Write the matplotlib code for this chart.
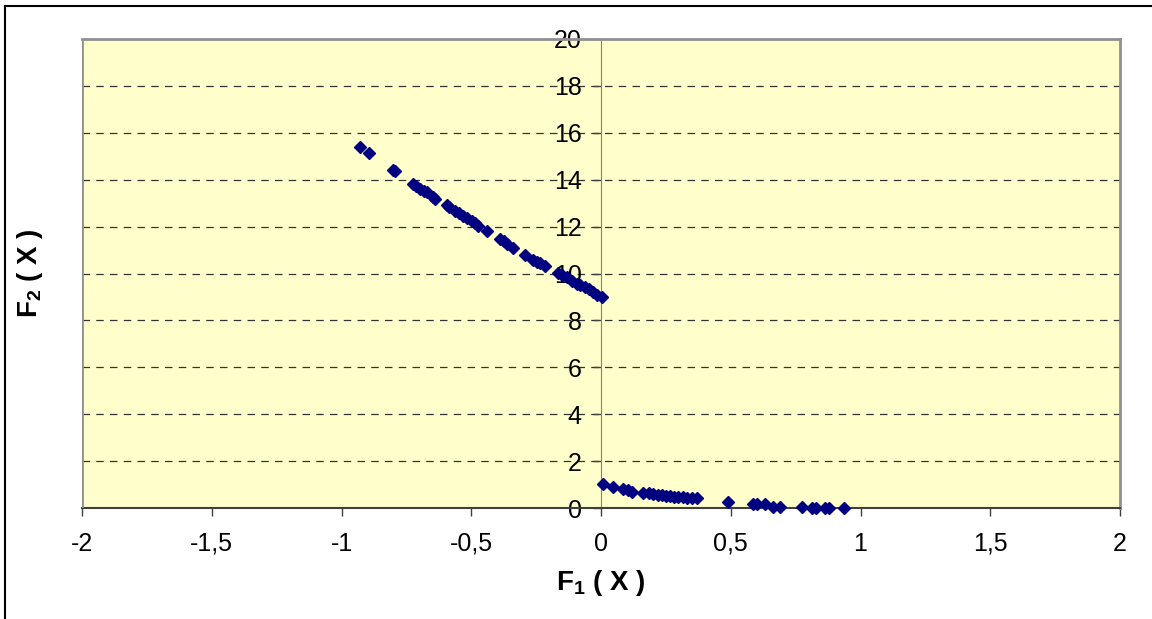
import numpy as np
import matplotlib.pyplot as plt
from matplotlib.lines import Line2D
from matplotlib.ticker import FuncFormatter

plt.rcParams['font.family'] = ['Liberation Sans', 'DejaVu Sans']
plt.rcParams['mathtext.fontset'] = 'custom'
plt.rcParams['mathtext.rm'] = 'Liberation Sans'
plt.rcParams['mathtext.bf'] = 'Liberation Sans:bold'

# Frente de Pareto: rama superior (F1 < 0) y rama inferior (F1 > 0)
f1_sup = [-0.929, -0.893, -0.800, -0.792, -0.726, -0.712, -0.697, -0.684, -0.672,
          -0.646, -0.638, -0.595, -0.585, -0.563, -0.548, -0.531, -0.515, -0.498,
          -0.485, -0.473, -0.441, -0.389, -0.375, -0.363, -0.338, -0.293, -0.261,
          -0.248, -0.235, -0.216, -0.165, -0.150, -0.132, -0.110, -0.094, -0.080,
          -0.062, -0.045, -0.030, -0.015, 0.003]
f2_sup = [15.40, 15.12, 14.41, 14.36, 13.82, 13.72, 13.60, 13.53, 13.46,
          13.25, 13.18, 12.90, 12.83, 12.68, 12.58, 12.47, 12.36, 12.26,
          12.15, 12.04, 11.83, 11.47, 11.37, 11.26, 11.09, 10.77, 10.58,
          10.51, 10.44, 10.34, 10.01, 9.93, 9.84, 9.70, 9.56, 9.49,
          9.42, 9.32, 9.20, 9.10, 9.00]

f1_inf = [0.006, 0.048, 0.086, 0.105, 0.118, 0.163, 0.185, 0.202, 0.218, 0.234,
          0.250, 0.266, 0.282, 0.298, 0.315, 0.330, 0.350, 0.369, 0.490, 0.587,
          0.600, 0.632, 0.664, 0.690, 0.773, 0.812, 0.830, 0.863, 0.880, 0.936]
f2_inf = [1.02, 0.88, 0.81, 0.75, 0.69, 0.65, 0.62, 0.60, 0.57, 0.55,
          0.53, 0.51, 0.49, 0.48, 0.45, 0.41, 0.41, 0.41, 0.24, 0.16,
          0.16, 0.16, 0.06, 0.06, 0.06, 0.01, 0.01, 0.01, 0.01, 0.01]

x_ticks = [-2, -1.5, -1, -0.5, 0, 0.5, 1, 1.5, 2]
y_ticks = [0, 2, 4, 6, 8, 10, 12, 14, 16, 18, 20]

fig = plt.figure(figsize=(11.52, 6.19), dpi=100)
ax = fig.add_axes([82 / 1152, 111 / 619, 1038 / 1152, 469 / 619])
ax.set_facecolor('#FFFFCC')

ax.plot(f1_sup + f1_inf, f2_sup + f2_inf, linestyle='none', marker='D',
        ms=6.5, color='#000080', mec='#000080', zorder=5, clip_on=False)

ax.set_xlim(-2, 2)
ax.set_ylim(0, 20)
ax.set_xticks(x_ticks)
ax.set_yticks(y_ticks)

coma = FuncFormatter(lambda v, p: ('%g' % v).replace('.', ','))
ax.xaxis.set_major_formatter(coma)
ax.yaxis.set_major_formatter(coma)

# lineas de cuadricula discontinuas
for y in y_ticks[1:-1]:
    ax.axhline(y, color='#333333', lw=0.9, dashes=(6, 5), zorder=1)

# eje vertical en x = 0
ax.spines['left'].set_position(('data', 0))
ax.spines['left'].set_color('#808080')
ax.spines['left'].set_zorder(2)
for s in ['top', 'right']:
    ax.spines[s].set_color('#909090')
    ax.spines[s].set_linewidth(2)
ax.spines['bottom'].set_color('#404040')
ax.spines['bottom'].set_linewidth(1.5)

ax.tick_params(axis='both', direction='out', length=6, width=1,
               color='#404040', labelsize=18, labelcolor='black')
ax.tick_params(axis='x', pad=11)
ax.tick_params(axis='y', pad=8)

# borde izquierdo a la altura de x = -2
ax.add_line(Line2D([-2, -2], [0, 20], color='#909090', lw=2, zorder=3))

ax.set_xlabel(r'F$_\mathregular{1}$ ( X )', fontsize=20, fontweight='bold', labelpad=9)
ax.set_ylabel(r'F$_\mathregular{2}$ ( X )', fontsize=20, fontweight='bold', va='center')
ax.yaxis.set_label_coords(-52 / 1038, 0.5)

# marco exterior del grafico
fig.add_artist(Line2D([5 / 1152, 5 / 1152], [0, 1 - 6 / 619], color='black', lw=1.5,
                      transform=fig.transFigure))
fig.add_artist(Line2D([5 / 1152, 1], [1 - 6 / 619, 1 - 6 / 619], color='black', lw=1.5,
                      transform=fig.transFigure))

fig.savefig('out.png', dpi=100)
